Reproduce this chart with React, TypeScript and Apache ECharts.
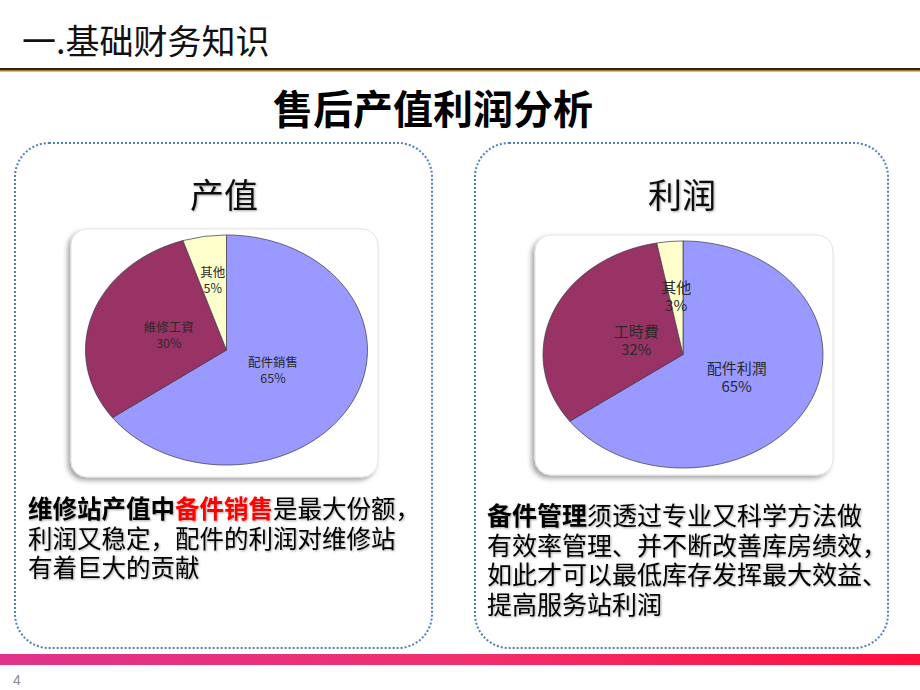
import React, { useEffect, useRef } from 'react';
import * as echarts from 'echarts';

const leftCategories = ['配件銷售', '維修工資', '其他'];
const leftValues = [65, 30, 5];
const rightCategories = ['配件利潤', '工時費', '其他'];
const rightValues = [65, 32, 3];
const sliceColors = ['#9999FF', '#993366', '#FFFFCC'];

const CJK = '"Noto Sans CJK SC", "Noto Sans", sans-serif';

type Geom = { cx: number; cy: number; rx: number; ry: number; labelR: number[]; font: number; lh: number };

function pieSeries(cats: string[], vals: number[], g: Geom) {
  const total = vals.reduce((a, b) => a + b, 0);
  return {
    type: 'custom',
    coordinateSystem: 'none',
    silent: true,
    data: vals.map((v, i) => ({ name: cats[i], value: v })),
    renderItem: (params: any, api: any) => {
      const i = params.dataIndex;
      let before = 0;
      for (let k = 0; k < i; k++) before += vals[k];
      const v = api.value(0);
      const a0 = -Math.PI / 2 + (2 * Math.PI * before) / total;
      const a1 = -Math.PI / 2 + (2 * Math.PI * (before + v)) / total;
      const mid = (2 * Math.PI * (before + v / 2)) / total;
      const f = g.labelR[i];
      const lx = g.cx + g.rx * f * Math.sin(mid);
      const ly = g.cy - g.ry * f * Math.cos(mid);
      return {
        type: 'group',
        children: [
          {
            type: 'sector',
            x: g.cx,
            y: g.cy,
            scaleY: g.ry / g.rx,
            shape: { cx: 0, cy: 0, r0: 0, r: g.rx, startAngle: a0, endAngle: a1, clockwise: true },
            style: { fill: sliceColors[i % sliceColors.length], stroke: '#3a3a4a', lineWidth: 0.8, strokeNoScale: true },
          },
          {
            type: 'text',
            x: lx,
            y: ly,
            style: {
              text: cats[i] + '\n' + v + '%',
              fill: '#2a2a2a',
              fontSize: g.font,
              fontFamily: CJK,
              lineHeight: g.lh,
              align: 'center',
              verticalAlign: 'middle',
            },
          },
        ],
      };
    },
  };
}

export default function App() {
  const ref = useRef<HTMLDivElement>(null);
  useEffect(() => {
    if (!ref.current) return;
    const chart = echarts.init(ref.current, null, { renderer: 'svg' });

    const shadowText = { textShadowColor: 'rgba(0,0,0,0.35)', textShadowBlur: 2, textShadowOffsetX: 1, textShadowOffsetY: 1 };
    const makeRich = (fs: number) => ({
      b: { fontSize: fs, fontFamily: CJK, fontWeight: 'bold', fill: '#000', ...shadowText },
      r: { fontSize: fs, fontFamily: CJK, fontWeight: 'bold', fill: '#ff0000', ...shadowText },
      n: { fontSize: fs, fontFamily: CJK, fill: '#000', ...shadowText },
    });
    const bodyLine = (x: number, y: number, text: string, fs: number) => ({
      type: 'text',
      x,
      y,
      style: { text, rich: makeRich(fs), verticalAlign: 'middle', align: 'left', fontSize: fs, fontFamily: CJK },
    });

    const box = (x: number, y: number, w: number, h: number) => ({
      type: 'rect',
      shape: { x, y, width: w, height: h, r: 34 },
      style: { fill: 'rgba(255,255,255,0)', stroke: '#4f7fc0', lineWidth: 2, lineDash: [2, 2] },
    });
    const frame = (x: number, y: number, w: number, h: number) => ({
      type: 'rect',
      shape: { x, y, width: w, height: h, r: 16 },
      style: {
        fill: '#ffffff',
        stroke: '#e2e2e2',
        lineWidth: 1,
        shadowColor: 'rgba(0,0,0,0.35)',
        shadowBlur: 5,
        shadowOffsetX: -3,
        shadowOffsetY: 3,
      },
    });

    chart.setOption({
      animation: false,
      backgroundColor: '#ffffff',
      graphic: [
        { type: 'text', x: 22, y: 39, style: { text: '一.基础财务知识', fontSize: 34, fontFamily: CJK, fill: '#111', verticalAlign: 'middle' } },
        { type: 'rect', shape: { x: 0, y: 68, width: 920, height: 2 }, style: { fill: '#2b2416' } },
        { type: 'rect', shape: { x: 0, y: 70, width: 920, height: 1.5 }, style: { fill: '#a47e2a' } },
        {
          type: 'text',
          x: 433,
          y: 107,
          style: { text: '售后产值利润分析', fontSize: 40, fontWeight: 'bold', fontFamily: CJK, fill: '#000', align: 'center', verticalAlign: 'middle' },
        },
        box(15, 143, 417, 505),
        box(475, 143, 413, 505),
        { type: 'text', x: 224, y: 193, style: { text: '产值', fontSize: 34, fontFamily: CJK, fill: '#111', align: 'center', verticalAlign: 'middle', ...shadowText } },
        { type: 'text', x: 682, y: 193, style: { text: '利润', fontSize: 34, fontFamily: CJK, fill: '#111', align: 'center', verticalAlign: 'middle', ...shadowText } },
        frame(71, 229, 307, 248),
        frame(535, 235, 298, 240),
        bodyLine(28, 507, '{b|维修站产值中}{r|备件销售}{n|是最大份额，}', 24.5),
        bodyLine(28, 537, '{n|利润又稳定，配件的利润对维修站}', 24.5),
        bodyLine(28, 566, '{n|有着巨大的贡献}', 24.5),
        bodyLine(487, 514, '{b|备件管理}{n|须透过专业又科学方法做}', 25),
        bodyLine(487, 544, '{n|有效率管理、并不断改善库房绩效，}', 25),
        bodyLine(487, 573, '{n|如此才可以最低库存发挥最大效益、}', 25),
        bodyLine(487, 603, '{n|提高服务站利润}', 25),
        {
          type: 'rect',
          shape: { x: 0, y: 654, width: 920, height: 11 },
          style: {
            fill: new echarts.graphic.LinearGradient(0, 0, 1, 0, [
              { offset: 0, color: '#e0338c' },
              { offset: 0.5, color: '#f0306e' },
              { offset: 1, color: '#ff0f3c' },
            ]),
          },
        },
        { type: 'text', x: 13, y: 680, style: { text: '4', fontSize: 14, fontFamily: 'Arial, "Liberation Sans", sans-serif', fill: '#8a8a8a', verticalAlign: 'middle' } },
      ],
      series: [
        pieSeries(leftCategories, leftValues, { cx: 226.5, cy: 350, rx: 141, ry: 115, labelR: [0.37, 0.43, 0.62], font: 12.5, lh: 15.5 }),
        pieSeries(rightCategories, rightValues, { cx: 683, cy: 354.5, rx: 140, ry: 113.5, labelR: [0.43, 0.36, 0.52], font: 15, lh: 18.5 }),
      ],
    } as any);
    return () => chart.dispose();
  }, []);
  return <div ref={ref} style={{ position: 'absolute', left: 0, top: 0, width: 920, height: 690 }} />;
}
